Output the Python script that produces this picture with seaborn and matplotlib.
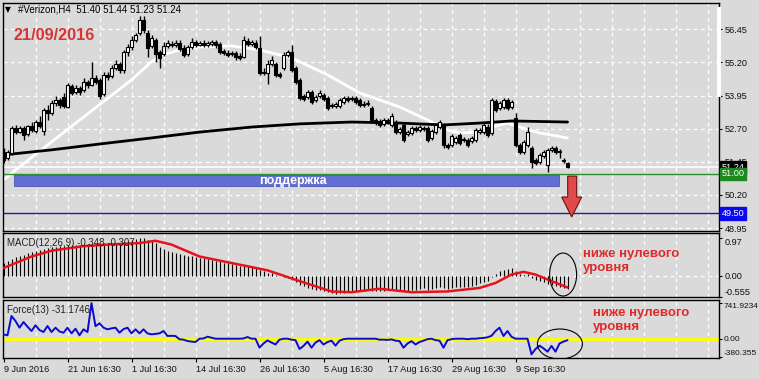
import numpy as np
import pandas as pd
import matplotlib
matplotlib.use("Agg")
import matplotlib.pyplot as plt
import seaborn as sns
from matplotlib.patches import Rectangle, Polygon, Ellipse

sns.set_theme(style="white")
plt.rcParams['font.family'] = ['Liberation Sans', 'DejaVu Sans']

# ---------------- data ----------------
opens = [51.82, 51.59, 51.78, 52.73, 52.57, 52.73, 52.50, 52.80, 52.61, 52.95,
         52.61, 53.40, 53.29, 53.67, 53.78, 53.90, 53.52, 54.31, 54.08, 54.24,
         54.16, 54.46, 54.35, 54.61, 54.54, 54.01, 54.73, 54.69, 54.99, 55.14,
         54.91, 55.59, 55.78, 56.05, 56.31, 56.80, 56.31, 55.82, 56.05, 55.59,
         55.52, 55.82, 55.90, 55.86, 55.93, 55.75, 55.52, 55.78, 55.97, 55.86,
         55.93, 55.86, 55.90, 55.97, 55.90, 55.63, 55.56, 55.52, 55.56, 55.44,
         55.41, 56.01, 55.90, 55.93, 55.75, 54.84, 54.80, 55.14, 55.14, 54.76,
         54.99, 55.48, 55.59, 54.99, 54.54, 53.93, 53.90, 54.08, 53.78, 53.93,
         53.97, 53.86, 53.56, 53.56, 53.56, 53.71, 53.86, 53.82, 53.86, 53.78,
         53.63, 53.63, 53.48, 53.03, 52.99, 52.88, 53.03, 52.84, 52.95, 52.57,
         52.84, 52.50, 52.54, 52.73, 52.65, 52.73, 52.73, 52.35, 52.57, 52.76,
         52.84, 52.08, 52.08, 52.20, 52.46, 52.31, 52.27, 52.24, 52.27, 52.57,
         52.57, 52.76, 52.54, 53.74, 53.48, 53.52, 53.78, 53.52, 53.10, 52.08,
         51.82, 52.08, 51.97, 51.52, 51.44, 51.67, 51.33, 51.90, 51.97, 51.86,
         51.48, 51.40]
closes = [51.52, 51.82, 52.73, 52.57, 52.73, 52.46, 52.80, 52.65, 52.95, 52.80,
          53.40, 53.29, 53.67, 53.78, 53.59, 53.56, 54.35, 54.05, 54.24, 54.08,
          54.46, 54.35, 54.61, 54.46, 53.93, 54.73, 54.65, 54.99, 55.14, 54.91,
          55.59, 55.78, 56.05, 56.24, 56.80, 56.42, 55.75, 56.12, 55.52, 55.37,
          55.82, 55.93, 55.86, 55.93, 55.71, 55.48, 55.78, 55.97, 55.86, 55.93,
          55.86, 55.93, 55.97, 55.86, 55.59, 55.56, 55.48, 55.56, 55.41, 55.37,
          56.05, 55.90, 55.97, 55.78, 54.80, 54.80, 55.14, 55.29, 54.73, 54.69,
          55.48, 55.59, 54.91, 54.46, 53.86, 53.82, 54.08, 53.71, 53.90, 54.05,
          53.82, 53.48, 53.59, 53.63, 53.78, 53.86, 53.78, 53.86, 53.71, 53.59,
          53.59, 53.67, 53.03, 52.95, 52.84, 53.03, 52.95, 53.18, 52.57, 52.69,
          52.27, 52.57, 52.73, 52.65, 52.76, 52.69, 52.27, 52.61, 52.84, 52.95,
          52.08, 52.01, 52.42, 52.35, 52.16, 52.27, 52.08, 52.35, 52.65, 52.65,
          52.84, 52.46, 53.78, 53.40, 53.67, 53.78, 53.48, 53.71, 52.08, 51.82,
          52.20, 52.57, 51.44, 51.40, 51.71, 51.82, 51.90, 51.97, 51.82, 51.82,
          51.52, 51.24]
highs = [51.97, 51.90, 52.80, 52.84, 52.80, 52.80, 52.84, 52.95, 53.03, 53.18,
         53.48, 53.59, 53.78, 53.93, 53.86, 54.05, 54.42, 54.39, 54.35, 54.31,
         54.61, 54.54, 55.22, 54.73, 54.61, 54.84, 54.84, 55.10, 55.29, 55.22,
         55.67, 55.90, 56.20, 56.31, 56.95, 56.95, 56.42, 56.24, 56.12, 55.67,
         55.97, 56.05, 56.01, 56.05, 56.05, 55.86, 55.86, 56.12, 56.05, 56.01,
         56.05, 56.01, 56.05, 56.05, 55.97, 55.71, 55.67, 55.63, 55.63, 55.56,
         56.20, 56.12, 56.05, 56.05, 56.20, 54.99, 55.29, 55.44, 55.22, 54.84,
         55.59, 55.67, 55.86, 55.06, 54.61, 54.01, 54.16, 54.16, 53.97, 54.16,
         54.05, 53.93, 53.67, 53.71, 53.86, 53.93, 53.93, 53.93, 53.93, 53.86,
         53.74, 53.78, 53.56, 53.10, 53.06, 53.10, 53.10, 53.29, 53.03, 52.76,
         52.92, 52.65, 52.80, 52.80, 52.84, 52.80, 52.80, 52.69, 52.92, 53.03,
         52.92, 52.16, 52.50, 52.42, 52.54, 52.38, 52.35, 52.42, 52.73, 52.73,
         52.92, 52.88, 53.86, 53.82, 53.74, 53.86, 53.86, 53.78, 53.29, 52.16,
         52.27, 52.76, 52.04, 51.59, 51.78, 51.90, 51.97, 52.04, 52.04, 51.93,
         51.59, 51.44]
lows = [51.40, 51.52, 51.71, 52.50, 52.54, 52.27, 52.42, 52.57, 52.54, 52.73,
        52.46, 53.03, 53.22, 53.56, 53.48, 53.48, 53.48, 53.97, 54.01, 53.97,
        54.08, 54.24, 54.31, 54.39, 53.82, 53.93, 54.54, 54.61, 54.91, 54.80,
        54.80, 55.44, 55.67, 55.97, 56.24, 56.31, 55.41, 55.75, 55.22, 54.99,
        55.44, 55.75, 55.78, 55.78, 55.63, 55.41, 55.44, 55.71, 55.78, 55.82,
        55.78, 55.78, 55.82, 55.75, 55.52, 55.48, 55.41, 55.44, 55.29, 55.29,
        55.37, 55.82, 55.82, 55.71, 54.73, 54.73, 54.39, 55.06, 54.65, 54.61,
        54.91, 55.41, 54.84, 54.39, 53.78, 53.74, 53.82, 53.63, 53.71, 53.86,
        53.74, 53.40, 53.48, 53.48, 53.48, 53.63, 53.71, 53.74, 53.63, 53.52,
        53.52, 53.56, 52.95, 52.84, 52.76, 52.80, 52.88, 52.76, 52.50, 52.50,
        52.20, 52.42, 52.46, 52.57, 52.57, 52.61, 52.20, 52.27, 52.50, 52.69,
        51.97, 51.93, 52.01, 52.12, 52.08, 52.20, 52.01, 52.16, 52.20, 52.50,
        52.50, 52.38, 52.46, 53.33, 53.40, 53.44, 53.40, 53.44, 52.01, 51.74,
        51.74, 52.01, 51.22, 51.33, 51.37, 51.59, 51.07, 51.82, 51.74, 51.59,
        51.40, 51.23]

# moving averages (sampled along the visible curve)
white_ma_idx = [0, 3, 12, 22, 32, 37, 39, 44, 49, 57, 64, 72, 81, 89, 99, 106, 111,
                114, 119, 122, 126, 129, 134, 141]
white_ma = [50.76, 51.14, 52.20, 53.37, 54.54, 55.22, 55.44, 55.67, 55.78, 55.82,
            55.67, 55.37, 54.73, 54.05, 53.52, 53.03, 52.65, 52.54, 52.57, 52.76,
            52.91, 52.76, 52.54, 52.35]
black_ma_idx = [0, 12, 24, 37, 49, 62, 74, 87, 99, 110, 119, 127, 141]
black_ma = [51.71, 51.90, 52.12, 52.35, 52.57, 52.76, 52.88, 52.95, 52.91, 52.84,
            52.91, 52.99, 52.95]

macd_hist = [0.33, 0.38, 0.43, 0.48, 0.52, 0.55, 0.58, 0.61, 0.65, 0.67,
             0.70, 0.72, 0.74, 0.76, 0.77, 0.77, 0.79, 0.79, 0.80, 0.81,
             0.82, 0.82, 0.84, 0.83, 0.84, 0.85, 0.85, 0.86, 0.86, 0.86,
             0.89, 0.91, 0.93, 0.95, 0.97, 0.98, 0.94, 0.90, 0.84, 0.76,
             0.69, 0.65, 0.61, 0.59, 0.57, 0.54, 0.52, 0.50, 0.49, 0.47,
             0.45, 0.43, 0.41, 0.39, 0.38, 0.34, 0.32, 0.31, 0.28, 0.26,
             0.27, 0.25, 0.23, 0.22, 0.14, 0.11, 0.08, 0.06, 0.02, -0.02,
             -0.03, -0.05, -0.11, -0.16, -0.23, -0.28, -0.31, -0.34, -0.36, -0.37,
             -0.39, -0.42, -0.45, -0.47, -0.46, -0.44, -0.42, -0.41, -0.40, -0.40,
             -0.39, -0.37, -0.39, -0.41, -0.40, -0.39, -0.38, -0.35, -0.36, -0.37,
             -0.40, -0.39, -0.37, -0.36, -0.34, -0.33, -0.36, -0.34, -0.32, -0.29,
             -0.32, -0.34, -0.32, -0.30, -0.30, -0.29, -0.30, -0.28, -0.23, -0.20,
             -0.16, -0.14, -0.03, 0.05, 0.11, 0.15, 0.17, 0.20, 0.13, 0.05,
             0.03, 0.04, -0.05, -0.11, -0.14, -0.17, -0.22, -0.25, -0.27, -0.30,
             -0.32, -0.348]
signal_idx = [0, 7, 12, 20, 28, 34, 38, 42, 49, 57, 66, 74, 82, 87, 94, 102, 111,
              119, 123, 127, 130, 133, 137, 141]
signal = [0.20, 0.50, 0.65, 0.77, 0.82, 0.85, 0.91, 0.81, 0.50, 0.33, 0.14, -0.14,
          -0.41, -0.43, -0.34, -0.43, -0.41, -0.32, -0.19, 0.03, 0.10, 0.03, -0.14,
          -0.307]

force = [91, 70, 472, 368, 229, 347, 250, 160, 279, 180,
         139, 264, 139, 229, 150, 125, 229, 112, 208, 71,
         195, 139, 741, 260, 320, 229, 195, 215, 229, 125,
         200, 229, 112, 195, 112, 195, 110, 91, 100, 112,
         160, 56, 60, 56, -12, -20, -48, -60, -69, 0,
         5, 42, 20, 0, 0, 0, 0, 0, 0, 0,
         5, 35, 0, 0, -187, -100, -35, -80, -120, -20,
         0, 0, -20, -30, -214, -150, -60, -187, -80, -30,
         -120, -70, -40, -145, -40, -10, 0, 0, 0, 0,
         0, 0, 0, 0, -20, -20, -25, -15, -40, -50,
         -187, -100, -50, -120, -70, -40, -10, 0, -30, -40,
         -187, -30, -10, 0, 0, 0, -10, 0, 0, 10,
         15, 30, 60, 160, 229, 56, 160, 40, 0, 0,
         0, 0, -325, -215, -145, -200, -270, -150, -270, -100,
         -60, -31]

price_levels = [56.45, 55.20, 53.95, 52.70, 51.45, 50.20, 48.95]
date_idx = [0, 16, 32, 48, 64, 80, 96, 112, 128]
date_labels = ["9 Jun 2016", "21 Jun 16:30", "1 Jul 16:30", "14 Jul 16:30",
               "26 Jul 16:30", "5 Aug 16:30", "17 Aug 16:30", "29 Aug 16:30",
               "9 Sep 16:30"]

# ---------------- figure ----------------
BG = "#dadada"
W, H = 759, 379
fig = plt.figure(figsize=(W / 100, H / 100), dpi=100, facecolor=BG)


def rect(x0, y0, x1, y1):
    return [x0 / W, 1 - y1 / H, (x1 - x0) / W, (y1 - y0) / H]


ax = fig.add_axes(rect(3, 2.7, 719, 231))
axm = fig.add_axes(rect(3, 233, 719, 297), sharex=ax)
axf = fig.add_axes(rect(3, 300, 719, 357.7), sharex=ax)

GRID = dict(color="white", lw=0.9, ls=(0, (3, 3)), zorder=1)
for a in (ax, axm, axf):
    a.set_facecolor(BG)
    for s in a.spines.values():
        s.set_color("black")
        s.set_linewidth(1.0)
    for k in range(1, 23):
        a.axvline(8 * k, **GRID)
    a.yaxis.tick_right()
    a.tick_params(axis="y", length=2.5, width=0.8, color="black", pad=1.5,
                  labelsize=6.6, labelcolor="#111111")
    a.grid(False)

ax.set_xlim(-0.125, 178.875)
idx = np.arange(len(closes))
o = np.array(opens)
c = np.array(closes)

# ---- main price panel ----
ax.set_ylim(48.84, 57.45)
for lv in price_levels:
    ax.axhline(lv, **GRID)
ax.set_yticks(price_levels)
ax.set_yticklabels([f"{v:.2f}" for v in price_levels])

sns.lineplot(x=white_ma_idx, y=white_ma, ax=ax, color="white", linewidth=2.0,
             zorder=2)
sns.lineplot(x=black_ma_idx, y=black_ma, ax=ax, color="black", linewidth=2.0,
             zorder=2)

ax.axhline(closes[-1], color="white", lw=1.1, zorder=2.5)
ax.axhline(51.00, color="#2f8f2f", lw=1.0, zorder=2.5)
ax.axhline(49.50, color="#1e1e90", lw=1.0, zorder=2.5)

ax.vlines(idx, lows, highs, color="black", lw=1.0, zorder=3)
up = c >= o
ax.bar(idx[up], (c - o)[up], bottom=o[up], width=0.68, color="white",
       edgecolor="black", linewidth=0.8, zorder=4)
ax.bar(idx[~up], (c - o)[~up], bottom=o[~up], width=0.68, color="black",
       edgecolor="black", linewidth=0.8, zorder=4)

ax.add_patch(Rectangle((2.7, 50.52), 136.1, 0.43, facecolor="#6170d2",
                       edgecolor="#4a55b0", lw=0.6, zorder=5))
ax.text(72.4, 50.73, "поддержка", color="white", fontsize=9, fontweight="bold",
        ha="center", va="center", zorder=6)

arrow = [(141.05, 50.91), (143.3, 50.91), (143.3, 50.12), (144.55, 50.12),
         (142.05, 49.37), (139.55, 50.12), (141.05, 50.12)]
ax.add_patch(Polygon(arrow, closed=True, facecolor="#e24a4a",
                     edgecolor="#6a1010", lw=0.8, zorder=6))


def pricebox(y, txt, fc):
    ax.annotate(txt, xy=(1, y), xycoords=("axes fraction", "data"),
                xytext=(2.0, 0), textcoords="offset points", ha="left",
                va="center", fontsize=6.6, color="white",
                bbox=dict(boxstyle="square,pad=0.18", fc=fc, ec=fc),
                annotation_clip=False, zorder=10)


pricebox(closes[-1], f"{closes[-1]:.2f}", "#000000")
pricebox(51.00, "51.00", "#1c8a1c")
pricebox(49.50, "49.50", "#0a0af0")

fig.text(5 / W, 1 - 10 / H, "▼", fontsize=5.5, color="black", va="center",
         family=["DejaVu Sans"])
fig.text(18 / W, 1 - 10 / H, "#Verizon,H4  51.40 51.44 51.23 51.24",
         fontsize=7, color="black", va="center")
fig.text(13 / W, 1 - 35 / H, "21/09/2016", fontsize=11.7, fontweight="bold",
         color="#d93434", va="center")
fig.patches.append(Rectangle((717 / W, 1 - 97 / H), 4 / W, 90 / H,
                             transform=fig.transFigure, facecolor="white",
                             edgecolor="none", zorder=20))

# ---- MACD panel ----
axm.set_ylim(-0.555, 1.112)
axm.axhline(0, **GRID)
axm.vlines(idx, 0, macd_hist, color="black", lw=0.8, zorder=3)
sns.lineplot(x=signal_idx, y=signal, ax=axm, color="#e8121a", linewidth=1.8,
             zorder=4)
axm.set_yticks([0.97, 0.0, -0.555])
axm.set_yticklabels(["0.97", "0.00", "-0.555"])
labs = axm.get_yticklabels()
labs[0].set_va("top")
labs[2].set_va("bottom")
axm.text(0.006, 0.85, "MACD(12,26,9) -0.348 -0.307", transform=axm.transAxes,
         fontsize=7, color="#222222", va="center", zorder=6)
axm.add_patch(Ellipse((139.9, 0.03), 6.75, 1.12, fill=False, edgecolor="black",
                      lw=0.8, zorder=6))
fig.text(583 / W, 1 - 248 / H, "ниже нулевого\nуровня", fontsize=9.5,
         fontweight="bold", color="#e02a2a", va="top", linespacing=1.25)

# ---- Force panel ----
axf.set_ylim(-395, 805)
axf.axhline(0, color="#ffff00", lw=2.0, zorder=2)
sns.lineplot(x=idx, y=force, ax=axf, color="#0a0ad0", linewidth=1.4, zorder=3)
axf.set_yticks([741.9234, 0.0, -380.355])
axf.set_yticklabels(["741.9234", "0.00", "-380.355"])
axf.tick_params(axis="y", pad=1.0)
labs = axf.get_yticklabels()
labs[0].set_va("top")
labs[2].set_va("bottom")
for lb in labs:
    lb.set_fontsize(6.0)
axf.text(0.006, 0.83, "Force(13) -31.1746", transform=axf.transAxes,
         fontsize=7, color="#222222", va="center", zorder=6)
axf.add_patch(Ellipse((139.1, -110), 11.25, 624, fill=False, edgecolor="black",
                      lw=0.8, zorder=6))
fig.text(593 / W, 1 - 307 / H, "ниже нулевого\nуровня", fontsize=9.5,
         fontweight="bold", color="#e02a2a", va="top", linespacing=1.25)

# x axis
axf.set_xticks(date_idx)
axf.set_xticklabels(date_labels)
for lbl in axf.get_xticklabels():
    lbl.set_ha("left")
axf.tick_params(axis="x", length=3, width=0.8, color="black", pad=2,
                labelsize=6.6, labelcolor="#111111", bottom=True)
for a in (ax, axm):
    a.tick_params(axis="x", bottom=False, labelbottom=False)
for a in (ax, axm, axf):
    a.set_xlabel("")
    a.set_ylabel("")

fig.savefig("out.png", dpi=100, facecolor=BG)
